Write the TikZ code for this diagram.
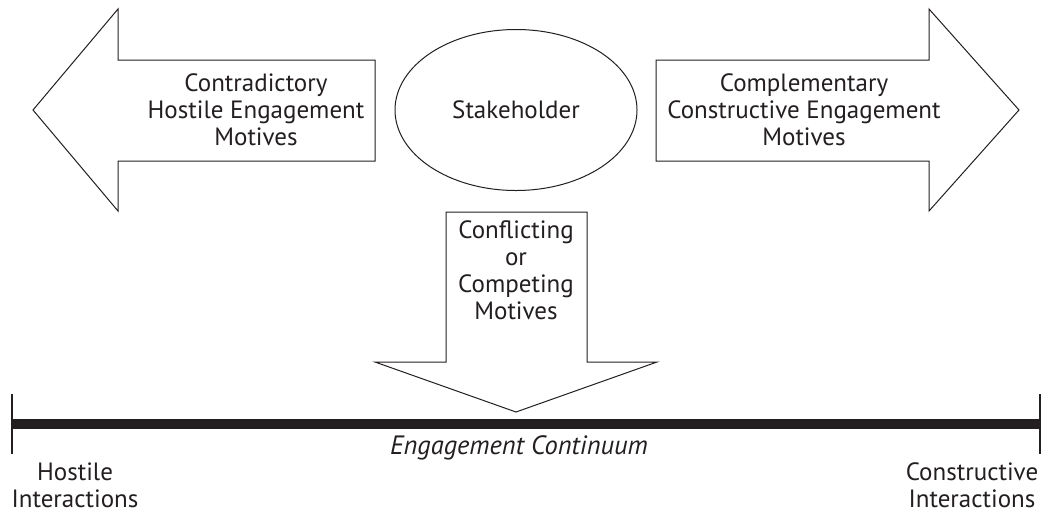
\documentclass[tikz,border=0pt]{standalone}
\usepackage{fontspec}
\setmainfont{PT Sans}
\usepackage{tikz}
\usetikzlibrary{shapes.geometric}
\definecolor{ink}{RGB}{35, 31, 32}

\begin{document}
\begin{tikzpicture}[x=1pt, y=-1pt,
    label/.style={text=ink, font=\fontsize{25}{27}\selectfont, align=center, inner sep=0pt},
    outline/.style={draw=ink, line width=1}]

  \useasboundingbox (0, 0) rectangle (1043, 515);
  \fill[white] (0, 0) rectangle (1043, 515);

  % block arrows
  \draw[outline] (33, 110) -- (118, 9) -- (118, 60) -- (375, 60) -- (375, 161)
    -- (118, 161) -- (118, 211) -- cycle;
  \draw[outline] (1019, 110) -- (929, 9) -- (929, 60) -- (656, 60) -- (656, 161)
    -- (929, 161) -- (929, 211) -- cycle;
  \draw[outline] (516, 412) -- (375, 362) -- (446, 362) -- (446, 212) -- (587, 212)
    -- (587, 362) -- (657, 362) -- cycle;

  \node[outline, ellipse, minimum width=242, minimum height=161, inner sep=0pt] (stakeholder) at (516, 110) {};
  \node[label] at (stakeholder.center) {Stakeholder};

  \node[label] (hostilemotives) at (256, 110) {Contradictory\\Hostile Engagement\\Motives};
  \node[label] (constructivemotives) at (804, 110) {Complementary\\Constructive Engagement\\Motives};
  \node[label] (competingmotives) at (516, 270) {Conflicting\\or\\Competing\\Motives};

  % continuum
  \coordinate (lend) at (12, 424);
  \coordinate (rend) at (1040, 424);
  \draw[ink, line width=9.5] (lend) -- (rend);
  \draw[ink, line width=2] (lend) ++(0, -30) -- ++(0, 60);
  \draw[ink, line width=2] (rend) ++(0, -30) -- ++(0, 60);

  \node[label, font=\fontsize{26.5}{27}\selectfont\itshape] (continuum) at (519, 448) {Engagement Continuum};
  \node[label] (hostile) at (75, 485) {Hostile\\Interactions};
  \node[label] (constructive) at (972, 485) {Constructive\\Interactions};

\end{tikzpicture}
\end{document}
